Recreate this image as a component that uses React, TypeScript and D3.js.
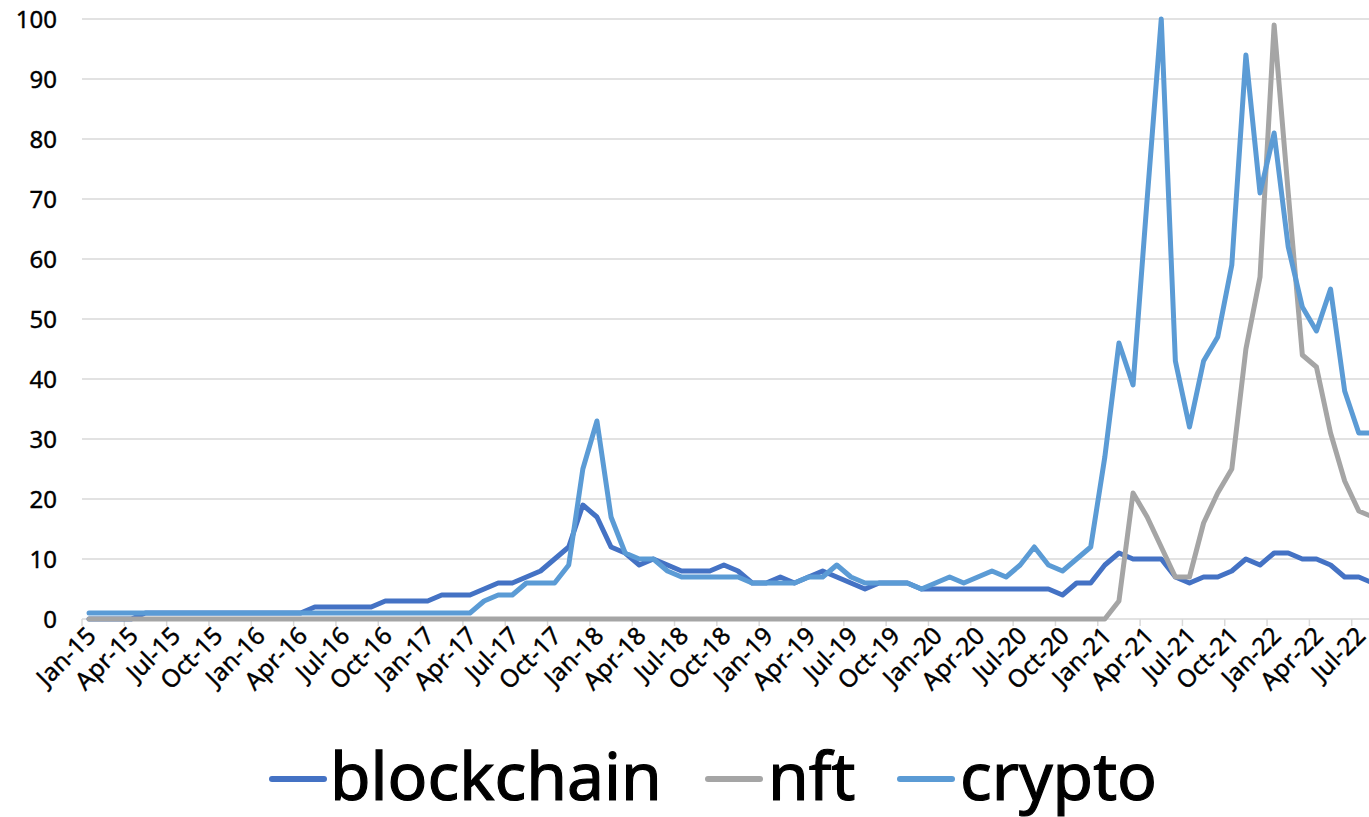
import React from "react";
import * as d3 from "d3";

// Categories: monthly, Jan-15 .. Aug-22
const fmt = d3.timeFormat("%b-%y");
const months: string[] = d3
  .timeMonths(new Date(2015, 0, 1), new Date(2022, 8, 1))
  .map((d) => fmt(d));

const blockchain = [
  0, 0, 0, 0, 1, 1, 1, 1, 1, 1, 1, 1,
  1, 1, 1, 1, 2, 2, 2, 2, 2, 3, 3, 3,
  3, 4, 4, 4, 5, 6, 6, 7, 8, 10, 12, 19,
  17, 12, 11, 9, 10, 9, 8, 8, 8, 9, 8, 6,
  6, 7, 6, 7, 8, 7, 6, 5, 6, 6, 6, 5,
  5, 5, 5, 5, 5, 5, 5, 5, 5, 4, 6, 6,
  9, 11, 10, 10, 10, 7, 6, 7, 7, 8, 10, 9,
  11, 11, 10, 10, 9, 7, 7, 6,
];

const nft = [
  0, 0, 0, 0, 0, 0, 0, 0, 0, 0, 0, 0,
  0, 0, 0, 0, 0, 0, 0, 0, 0, 0, 0, 0,
  0, 0, 0, 0, 0, 0, 0, 0, 0, 0, 0, 0,
  0, 0, 0, 0, 0, 0, 0, 0, 0, 0, 0, 0,
  0, 0, 0, 0, 0, 0, 0, 0, 0, 0, 0, 0,
  0, 0, 0, 0, 0, 0, 0, 0, 0, 0, 0, 0,
  0, 3, 21, 17, 12, 7, 7, 16, 21, 25, 45, 57,
  99, 71, 44, 42, 31, 23, 18, 17,
];

const crypto = [
  1, 1, 1, 1, 1, 1, 1, 1, 1, 1, 1, 1,
  1, 1, 1, 1, 1, 1, 1, 1, 1, 1, 1, 1,
  1, 1, 1, 1, 3, 4, 4, 6, 6, 6, 9, 25,
  33, 17, 11, 10, 10, 8, 7, 7, 7, 7, 7, 6,
  6, 6, 6, 7, 7, 9, 7, 6, 6, 6, 6, 5,
  6, 7, 6, 7, 8, 7, 9, 12, 9, 8, 10, 12,
  27, 46, 39, 70, 100, 43, 32, 43, 47, 59, 94, 71,
  81, 62, 52, 48, 55, 38, 31, 31,
];

const yTicks = [0, 10, 20, 30, 40, 50, 60, 70, 80, 90, 100];

const seriesNames = ["blockchain", "nft", "crypto"];
const seriesColors = ["#4472C4", "#A5A5A5", "#5B9BD5"];
const seriesData = [blockchain, nft, crypto];

const W = 1369;
const H = 817;
const left = 82;
const step = 14.108;
const right = left + months.length * step;
const top = 19;
const bottom = 619;
const FONT = "'Noto Sans', 'Open Sans', sans-serif";

export default function App() {
  const x = d3.scaleBand<string>().domain(months).range([left, right]).padding(0);
  const y = d3.scaleLinear().domain([0, 100]).range([bottom, top]);
  const cx = (m: string) => (x(m) as number) + x.bandwidth() / 2;

  const line = d3
    .line<number>()
    .x((_, i) => cx(months[i]))
    .y((v) => y(v));

  const tickIdx = months.map((_, i) => i).filter((i) => i % 3 === 0);

  const legendItems = [
    { lx: 272, tx: 330 },
    { lx: 708, tx: 768 },
    { lx: 900, tx: 960 },
  ];

  return (
    <svg
      width={W}
      height={H}
      style={{ position: "absolute", left: 0, top: 0, background: "#fff" }}
    >
      <rect x={0} y={0} width={W} height={H} fill="#fff" />
      {yTicks.map((t) => (
        <line
          key={"g" + t}
          x1={left}
          x2={right}
          y1={y(t)}
          y2={y(t)}
          stroke="#D9D9D9"
          strokeWidth={1.5}
        />
      ))}
      {tickIdx.map((i) => (
        <line
          key={"tm" + i}
          x1={x(months[i]) as number}
          x2={x(months[i]) as number}
          y1={bottom}
          y2={bottom + 7}
          stroke="#D9D9D9"
          strokeWidth={1.5}
        />
      ))}
      {yTicks.map((t) => (
        <text
          key={"yl" + t}
          x={57}
          y={y(t)}
          dy="0.36em"
          textAnchor="end"
          fontFamily={FONT}
          fontSize={24}
          fill="#000"
          stroke="#000"
          strokeWidth={0.4}
        >
          {t}
        </text>
      ))}
      {tickIdx.map((i) => (
        <text
          key={"xl" + i}
          transform={`translate(${cx(months[i]) + 2},${631}) rotate(-45)`}
          dy="0.36em"
          textAnchor="end"
          fontFamily={FONT}
          fontSize={24.5}
          fill="#000"
          stroke="#000"
          strokeWidth={0.4}
        >
          {months[i]}
        </text>
      ))}
      {seriesData.map((s, k) => (
        <path
          key={"s" + k}
          d={line(s) || ""}
          fill="none"
          stroke={seriesColors[k]}
          strokeWidth={5}
          strokeLinejoin="round"
          strokeLinecap="round"
        />
      ))}
      {seriesNames.map((n, k) => (
        <g key={"lg" + k}>
          <line
            x1={legendItems[k].lx}
            x2={legendItems[k].lx + 52}
            y1={779}
            y2={779}
            stroke={seriesColors[k]}
            strokeWidth={6}
            strokeLinecap="round"
          />
          <text
            x={legendItems[k].tx}
            y={800}
            fontFamily={FONT}
            fontSize={66}
            fill="#000"
            stroke="#000"
            strokeWidth={1.2}
          >
            {n}
          </text>
        </g>
      ))}
    </svg>
  );
}
